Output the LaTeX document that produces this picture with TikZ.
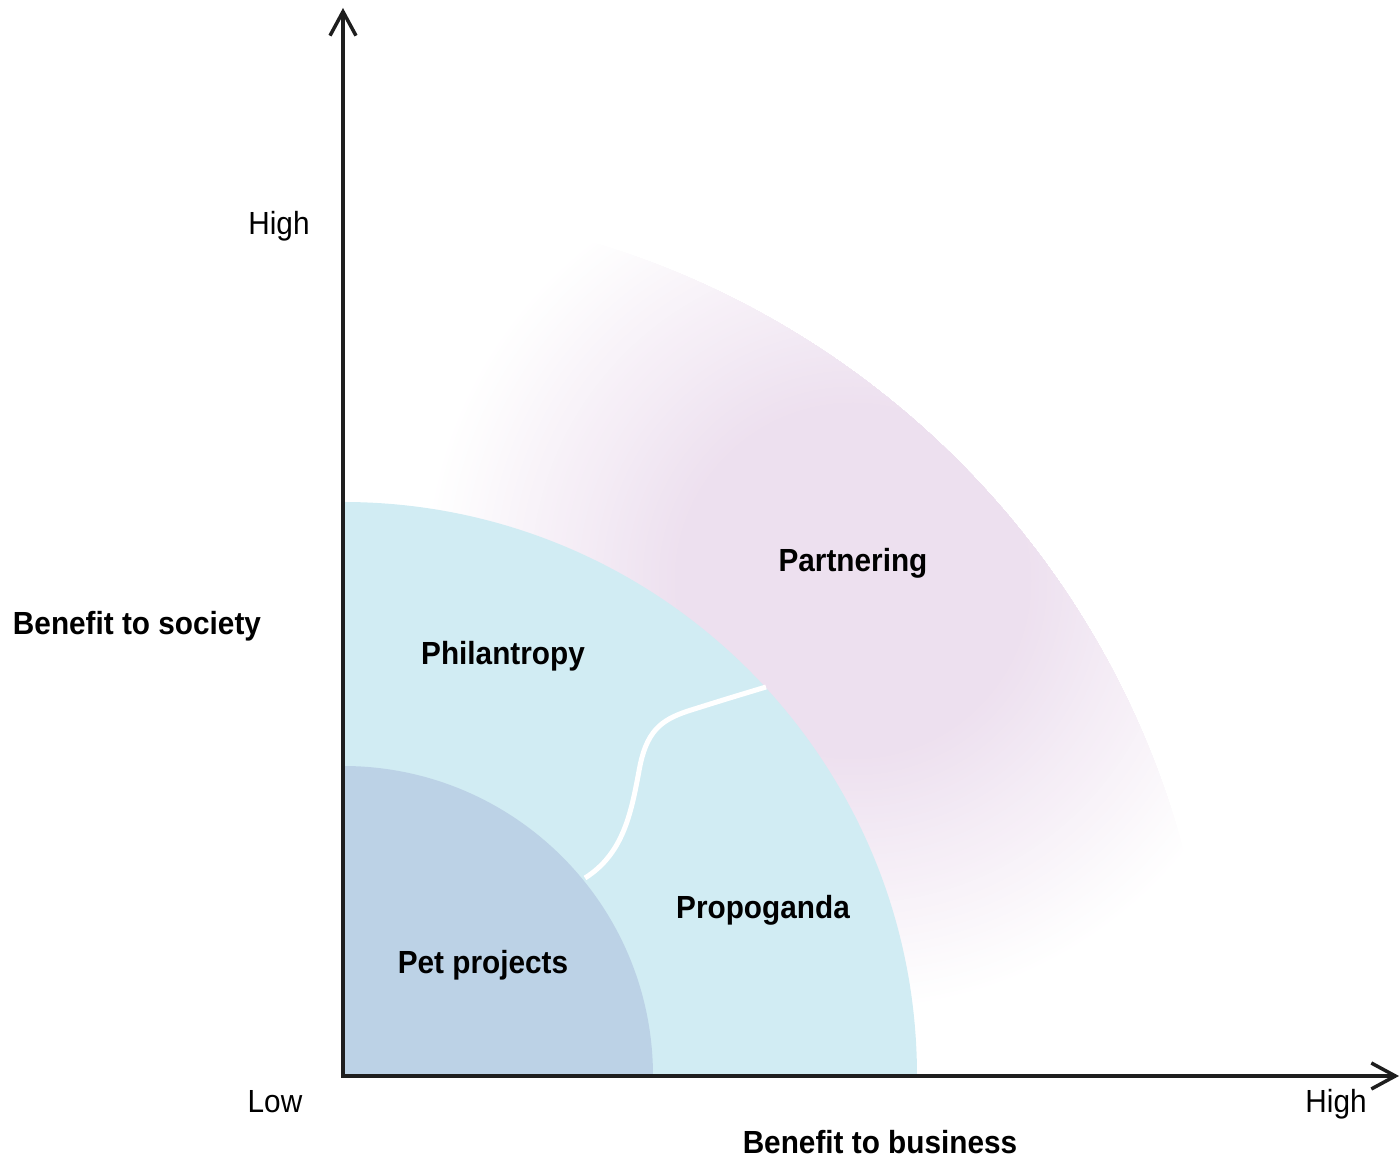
\documentclass[tikz,border=0pt]{standalone}
\usepackage{fontspec}
\setmainfont{Liberation Sans}[FakeStretch=0.93]
\usetikzlibrary{arrows.meta}
\definecolor{petblue}{HTML}{BCD2E6}
\definecolor{zonecyan}{HTML}{D1ECF3}
\definecolor{partpink}{HTML}{EDE0EF}
\definecolor{axisink}{HTML}{1E1E1E}
\tikzset{
  axisline/.style={draw=axisink, line width=3.5pt, line join=miter,
    {Straight Barb[length=24pt,width=26pt]}-{Straight Barb[length=24pt,width=26pt]}},
  zonelabel/.style={font=\fontsize{32}{36}\selectfont\bfseries, anchor=base, inner sep=0pt, text=black},
  ticklabel/.style={font=\fontsize{32}{36}\selectfont, anchor=base, inner sep=0pt, text=black},
  divider/.style={draw=white, line width=5pt},
}
\begin{document}
\begin{tikzpicture}[x=1pt,y=1pt]
\useasboundingbox (-343,-85) rectangle (1057,1076);

% soft partnering band: radial fade, cut by the outer arc
\coordinate (pc) at (510,495);
\begin{scope}
  \clip (0,0) -- (870,0) arc (0:90:870) -- cycle;
  \foreach \i in {0,...,64}{
    \pgfmathsetmacro\rr{430-4*\i}
    \pgfmathsetmacro\mm{100*\i/64}
    \fill[partpink!\mm!white] (pc) circle (\rr);
  }
\end{scope}

% middle zone
\fill[zonecyan] (0,0) -- (574,0) arc (0:90:574) -- cycle;

% boundary between philanthropy and propaganda
\draw[divider] (242,198) .. controls (280,222) and (288,262) .. (296,305)
  .. controls (303,345) and (318,356) .. (345,365)
  .. controls (380,376) .. (423,389);

% inner zone
\fill[petblue] (0,0) -- (310,0) arc (0:90:310) -- cycle;

% axes
\coordinate (ytop) at (0,1068);
\coordinate (origin) at (0,0);
\coordinate (xend) at (1056,0);
\draw[axisline] (ytop) -- (origin) -- (xend);

% axis labels
\node[ticklabel] (yhigh) at (-64,841) {High};
\node[zonelabel] (ytitle) at (-206,441) {Benefit to society};
\node[ticklabel] (xlow) at (-68,-37) {Low};
\node[ticklabel] (xhigh) at (993,-37) {High};
\node[zonelabel] (xtitle) at (537,-78) {Benefit to business};

% zone labels
\node[zonelabel] (partnering) at (510,504) {Partnering};
\node[zonelabel] (philantropy) at (160,411) {Philantropy};
\node[zonelabel] (propoganda) at (420,157) {Propoganda};
\node[zonelabel] (petprojects) at (140,102) {Pet projects};
\end{tikzpicture}
\end{document}
